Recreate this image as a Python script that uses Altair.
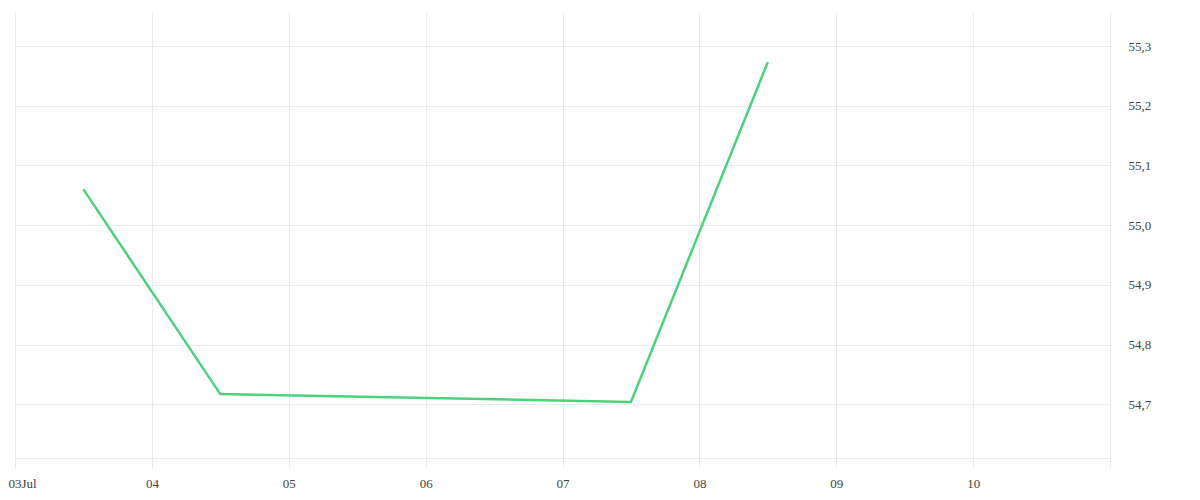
import altair as alt
import pandas as pd

dates = ["2025-07-03T12:00:00Z", "2025-07-04T12:00:00Z", "2025-07-07T12:00:00Z", "2025-07-08T12:00:00Z"]
values = [55.06, 54.717, 54.704, 55.273]
y_ticks = [54.7, 54.8, 54.9, 55.0, 55.1, 55.2, 55.3]
y_domain = [54.61, 55.357]
x_days = list(range(3, 12))

df = pd.DataFrame({"date": dates, "value": values})

GRID = "#ebebeb"
TEXT = "#444444"
FONT = "Liberation Serif"

x_values = [alt.DateTime(year=2025, month=7, date=d, utc=True) for d in x_days]

first_test = "utcdate(datum.value) == 3"

chart = alt.Chart(df).mark_line(color="#4cd27b", strokeWidth=2.5).encode(
    x=alt.X(
        "date:T",
        scale=alt.Scale(
            type="utc",
            domain=[alt.DateTime(year=2025, month=7, date=3, utc=True),
                    alt.DateTime(year=2025, month=7, date=11, utc=True)],
        ),
        axis=alt.Axis(
            title=None,
            values=x_values,
            labelExpr="utcdate(datum.value) == 3 ? '03Jul' : (utcdate(datum.value) == 11 ? '' : utcFormat(datum.value, '%d'))",
            grid=True,
            gridColor=GRID,
            tickColor=GRID,
            tickSize=10,
            domainColor=GRID,
            labelPadding=9,
            labelFont=FONT,
            labelFontSize=13,
            labelColor=TEXT,
            labelFlush=False,
            labelOverlap=False,
            labelBound=False,
            labelAlign={"condition": {"test": first_test, "value": "left"}, "value": "center"},
            labelOffset={"condition": {"test": first_test, "value": -7}, "value": 0},
        ),
    ),
    y=alt.Y(
        "value:Q",
        scale=alt.Scale(domain=y_domain, nice=False, zero=False),
        axis=alt.Axis(
            title=None,
            orient="right",
            values=y_ticks,
            labelExpr="replace(format(datum.value, '.1f'), '.', ',')",
            grid=True,
            gridColor=GRID,
            ticks=False,
            domain=False,
            labelPadding=18,
            labelFont=FONT,
            labelFontSize=13,
            labelColor=TEXT,
            labelAlign="left",
        ),
    ),
).properties(
    width=1095,
    height=446,
    autosize=alt.AutoSizeParams(type="none"),
    padding={"left": 7, "top": 4, "right": 70, "bottom": 34},
).configure_view(stroke=None)

chart.save("out.html", embed_options={"renderer": "svg", "actions": False})
